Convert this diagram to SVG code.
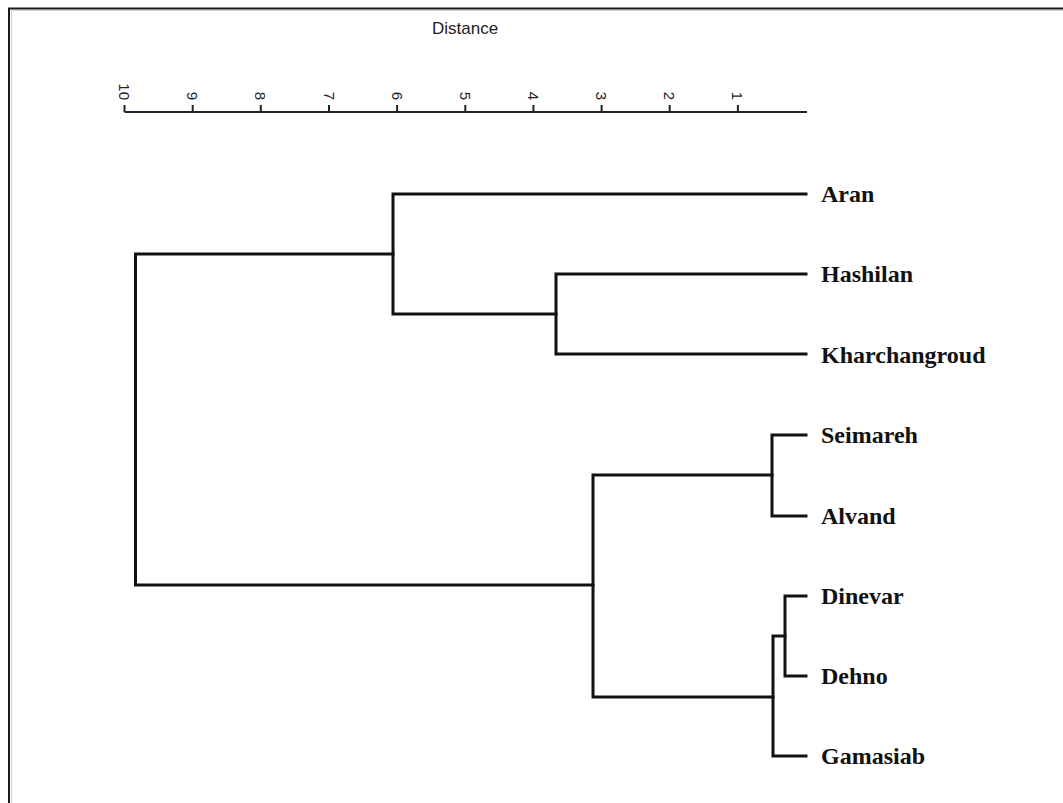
<svg xmlns="http://www.w3.org/2000/svg" width="1063" height="803" viewBox="0 0 1063 803">
<style>
.frame{stroke:#1a1a1a;stroke-width:2;fill:none}
.shadow{stroke:#cfcfcf;stroke-width:1;fill:none}
.axis{stroke:#222;stroke-width:2;fill:none}
.tick{stroke:#222;stroke-width:2}
.num{font-family:"Liberation Sans",Arial,sans-serif;font-size:15px;fill:#222}
.title{font-family:"Liberation Sans",Arial,sans-serif;font-size:17px;fill:#222}
.edge{stroke:#111;stroke-width:3;fill:none;stroke-linejoin:miter;stroke-linecap:square}
.leaf{font-family:"Liberation Serif","Times New Roman",serif;font-weight:bold;font-size:24px;fill:#111}
</style>
<rect width="1063" height="803" fill="#ffffff"/>
<g id="frame">
<path class="shadow" d="M11,10.5 H1063 M11.5,10 V803"/>
<path class="frame" d="M9,803 V8.5 H1063"/>
</g>
<g id="axis">
<text class="title" x="432" y="34">Distance</text>
<path class="axis" d="M124.5,112 H807"/>
<g class="tick">
<line x1="124.5" y1="105" x2="124.5" y2="112"/>
<line x1="192.7" y1="105" x2="192.7" y2="112"/>
<line x1="260.8" y1="105" x2="260.8" y2="112"/>
<line x1="329" y1="105" x2="329" y2="112"/>
<line x1="397.1" y1="105" x2="397.1" y2="112"/>
<line x1="465.3" y1="105" x2="465.3" y2="112"/>
<line x1="533.4" y1="105" x2="533.4" y2="112"/>
<line x1="601.6" y1="105" x2="601.6" y2="112"/>
<line x1="669.7" y1="105" x2="669.7" y2="112"/>
<line x1="737.9" y1="105" x2="737.9" y2="112"/>
</g>
<g class="num" text-anchor="end">
<text transform="translate(119,100) rotate(90)">10</text>
<text transform="translate(187.2,100) rotate(90)">9</text>
<text transform="translate(255.3,100) rotate(90)">8</text>
<text transform="translate(323.5,100) rotate(90)">7</text>
<text transform="translate(391.6,100) rotate(90)">6</text>
<text transform="translate(459.8,100) rotate(90)">5</text>
<text transform="translate(527.9,100) rotate(90)">4</text>
<text transform="translate(596.1,100) rotate(90)">3</text>
<text transform="translate(664.2,100) rotate(90)">2</text>
<text transform="translate(732.4,100) rotate(90)">1</text>
</g>
</g>
<g id="connectors">
<path class="edge" d="M806,274 H556 V354 H806"/>
<path class="edge" d="M806,194 H393 V314 H556"/>
<path class="edge" d="M806,435 H772 V516 H806"/>
<path class="edge" d="M806,596 H785 V676 H806"/>
<path class="edge" d="M785,636 H773 V756 H806"/>
<path class="edge" d="M772,475 H593 V697 H773"/>
<path class="edge" d="M393,254 H135.5 V585 H593"/>
</g>
<g id="node-aran"><text class="leaf" x="821" y="201.5">Aran</text></g>
<g id="node-hashilan"><text class="leaf" x="821" y="282">Hashilan</text></g>
<g id="node-kharchangroud"><text class="leaf" x="821" y="362.5">Kharchangroud</text></g>
<g id="node-seimareh"><text class="leaf" x="821" y="443">Seimareh</text></g>
<g id="node-alvand"><text class="leaf" x="821" y="524">Alvand</text></g>
<g id="node-dinevar"><text class="leaf" x="821" y="604">Dinevar</text></g>
<g id="node-dehno"><text class="leaf" x="821" y="684">Dehno</text></g>
<g id="node-gamasiab"><text class="leaf" x="821" y="764">Gamasiab</text></g>
</svg>
